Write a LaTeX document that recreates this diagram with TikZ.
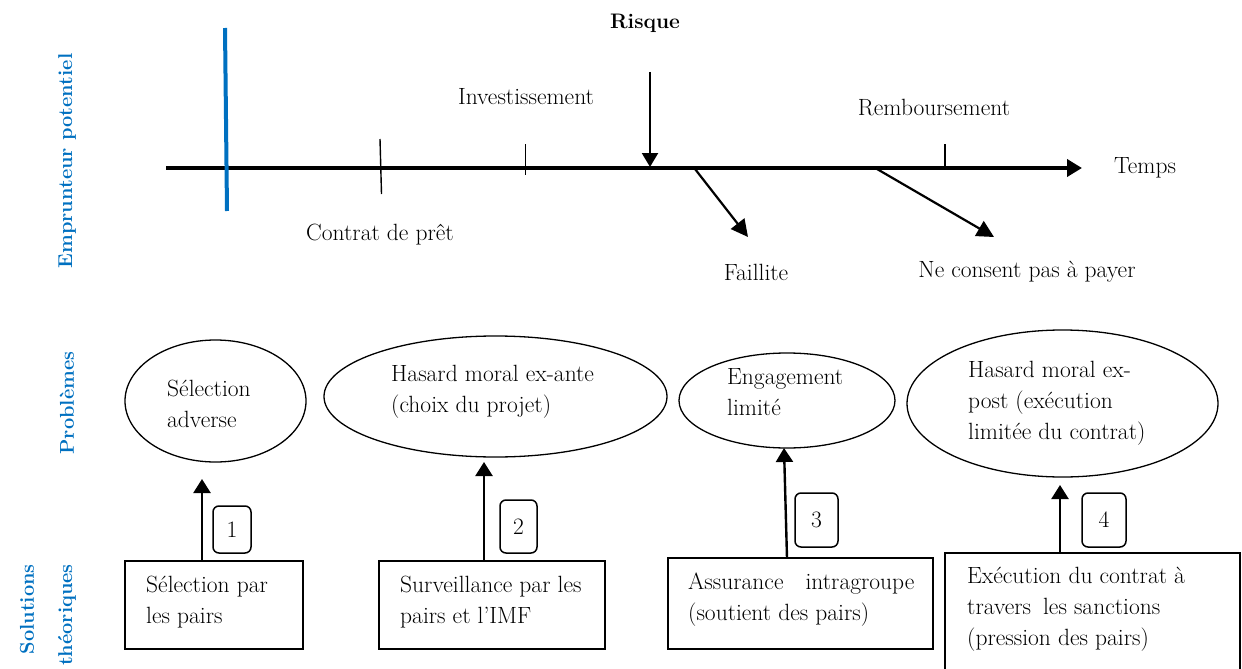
\documentclass[tikz,border=0pt]{standalone}
\usetikzlibrary{arrows.meta,shapes.geometric}
\definecolor{lblblue}{RGB}{0,112,192}
\begin{document}
\begin{tikzpicture}[x=1pt,y=-1pt,
  txt/.style={font=\fontsize{23.5}{31}\selectfont, inner sep=0pt, align=left},
  side/.style={font=\fontsize{20}{24}\selectfont\bfseries, text=lblblue, rotate=90, inner sep=0pt},
  ell/.style={draw, ellipse, line width=1.3pt, inner sep=0pt},
  sbox/.style={draw, line width=1.7pt, inner sep=0pt},
  numbox/.style={draw, rounded corners=6pt, line width=1.5pt, inner sep=0pt, font=\fontsize{23.5}{26}\selectfont},
  uparrow/.style={-{Triangle[length=14pt,width=17pt]}, line width=2.4pt},
  tlarrow/.style={-{Triangle[length=15pt,width=17pt]}, line width=4pt},
  darrow/.style={-{Triangle[length=17pt,width=17pt]}, line width=2.2pt},
  tick/.style={line width=1.4pt},
]
\useasboundingbox (0,0) rectangle (1242,669);
\clip (0,0) rectangle (1242,669);

% side labels
\node[side] (lab1) at (67,161) {Emprunteur potentiel};
\node[side] (lab2) at (67,403) {Problèmes};
\node[side, anchor=east] (lab3a) at (27,564) {Solutions};
\node[side, anchor=east] (lab3b) at (67,564) {théoriques};

% timeline
\coordinate (tl0) at (166,168);
\coordinate (tl1) at (1082,168);
\draw[tlarrow] (tl0) -- (tl1);
\node[txt] (temps) at (1145,168) {Temps};

\coordinate (bl0) at (225,28);
\coordinate (bl1) at (227,211);
\draw[lblblue, line width=4pt] (bl0) -- (bl1);

\coordinate (tk1a) at (380,139); \coordinate (tk1b) at (381.5,194);
\draw[tick] (tk1a) -- (tk1b);
\coordinate (tk2a) at (525.5,144); \coordinate (tk2b) at (525.5,175);
\draw[tick] (tk2a) -- (tk2b);
\coordinate (tk3a) at (945,144); \coordinate (tk3b) at (945,168);
\draw[tick] (tk3a) -- (tk3b);

\node[txt, font=\fontsize{21}{26}\selectfont\bfseries] (risque) at (645,23) {Risque};
\coordinate (rtop) at (650,72);
\coordinate (rtip) at (650,167);
\draw[-{Triangle[length=14pt,width=16pt]}, line width=2.2pt] (rtop) -- (rtip);

\node[txt] (invest) at (526,97) {Investissement};
\node[txt] (contrat) at (380,235) {Contrat de prêt};
\node[txt] (rembours) at (934,108) {Remboursement};

\node[txt] (faillite) at (756,272) {Faillite};
\node[txt] (neconsent) at (1027,272) {Ne consent pas à payer};
\coordinate (fa0) at (695,169);
\coordinate (fa1) at (748,237);
\draw[darrow] (fa0) -- (fa1);
\coordinate (nc0) at (877,169);
\coordinate (nc1) at (994,237);
\draw[darrow] (nc0) -- (nc1);

% problems (ellipses)
\node[ell, minimum width=181pt, minimum height=122pt] (e1) at (215.5,401) {};
\node[txt, anchor=west] (e1t) at (167,404) {Sélection\\adverse};
\node[ell, minimum width=343pt, minimum height=121pt] (e2) at (495.5,396.5) {};
\node[txt, anchor=west] (e2t) at (391,391.5) {Hasard moral ex-ante\\(choix du projet)};
\node[ell, minimum width=216pt, minimum height=95pt] (e3) at (787,400.5) {};
\node[txt, anchor=west] (e3t) at (727,392.5) {Engagement\\limité};
\node[ell, minimum width=311pt, minimum height=147pt] (e4) at (1062.5,403.5) {};
\node[txt, anchor=west] (e4t) at (968,403) {Hasard moral ex-\\post (exécution\\limitée du contrat)};

% solutions (boxes)
\node[sbox, minimum width=178pt, minimum height=88pt] (b1) at (214,605) {};
\node[txt, anchor=west] (b1t) at (146,602) {Sélection par\\les pairs};
\node[sbox, minimum width=226pt, minimum height=88pt] (b2) at (492,605) {};
\node[txt, anchor=west] (b2t) at (400,602) {Surveillance par les\\pairs et l’IMF};
\node[sbox, minimum width=265pt, minimum height=91pt] (b3) at (800.5,603.5) {};
\node[txt, anchor=west] (b3t) at (688,600) {Assurance\hspace{22pt}intragroupe\\(soutient des pairs)};
\node[sbox, minimum width=295pt, minimum height=127pt] (b4) at (1092.5,616.5) {};
\node[txt, anchor=west] (b4t) at (967,609) {Exécution du contrat à\\travers\hspace{12pt}les sanctions\\(pression des pairs)};

% numbers
\node[numbox, minimum width=38pt, minimum height=47pt] (n1) at (232,529.5) {1};
\node[numbox, minimum width=37pt, minimum height=53pt] (n2) at (518.5,526.5) {2};
\node[numbox, minimum width=43pt, minimum height=54pt] (n3) at (816.5,520) {3};
\node[numbox, minimum width=44pt, minimum height=54pt] (n4) at (1104,520) {4};

% arrows from solutions to problems
\coordinate (a1tip) at (202,479);
\draw[uparrow] (b1.north -| a1tip) -- (a1tip);
\coordinate (a2tip) at (484,462);
\draw[uparrow] (b2.north -| a2tip) -- (a2tip);
\coordinate (a3base) at (787,558);
\coordinate (a3tip) at (784,448);
\draw[uparrow] (a3base) -- (a3tip);
\coordinate (a4tip) at (1060,485);
\draw[uparrow] (b4.north -| a4tip) -- (a4tip);
\end{tikzpicture}
\end{document}
